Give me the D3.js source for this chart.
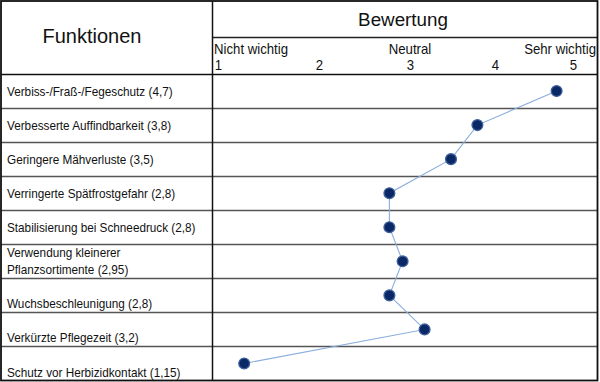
<!DOCTYPE html>
<html><head><meta charset="utf-8">
<script src="https://cdn.jsdelivr.net/npm/d3@7"></script>
<style>body{margin:0;background:#fff}svg{display:block;font-family:"Liberation Sans",Arial,sans-serif}</style>
</head><body><svg id="c" width="600" height="382"></svg>
<script>
// ---- data ----
const categories = [
  ["Verbiss-/Fraß-/Fegeschutz (4,7)"],
  ["Verbesserte Auffindbarkeit (3,8)"],
  ["Geringere Mähverluste (3,5)"],
  ["Verringerte Spätfrostgefahr (2,8)"],
  ["Stabilisierung bei Schneedruck (2,8)"],
  ["Verwendung kleinerer", "Pflanzsortimente (2,95)"],
  ["Wuchsbeschleunigung (2,8)"],
  ["Verkürzte Pflegezeit (3,2)"],
  ["Schutz vor Herbizidkontakt (1,15)"]
];
const values = [4.7, 3.8, 3.5, 2.8, 2.8, 2.95, 2.8, 3.2, 1.15];
const tickValues = [1, 2, 3, 4, 5];
const scaleLabels = ["Nicht wichtig", "Neutral", "Sehr wichtig"];
const headerLeft = "Funktionen";
const headerRight = "Bewertung";

// ---- layout ----
const svg = d3.select("#c");
const L = 1, R = 597.5, T = 1, B = 380.5, DIV = 212.5, HMID = 37.5, HB = 74;
const rowAlign = ["mid","mid","mid","mid","mid","two","bot","bot","bot"];

const x = d3.scaleLinear().domain([1, 5]).range([231, 583]);
const y = d3.scaleBand().domain(d3.range(categories.length)).range([HB, B]).paddingInner(0).paddingOuter(0);

// row lines
svg.append("g").selectAll("line").data(d3.range(1, categories.length)).join("line")
  .attr("x1", L).attr("x2", R)
  .attr("y1", i => Math.round(y(i)) + 0.5).attr("y2", i => Math.round(y(i)) + 0.5)
  .attr("stroke", "#555").attr("stroke-width", 1.3);

// header lines
svg.append("line").attr("x1", DIV).attr("x2", R).attr("y1", HMID).attr("y2", HMID).attr("stroke", "#222").attr("stroke-width", 1.3);
svg.append("line").attr("x1", L).attr("x2", R).attr("y1", HB + 0.5).attr("y2", HB + 0.5).attr("stroke", "#111").attr("stroke-width", 1.5);
svg.append("line").attr("x1", DIV).attr("x2", DIV).attr("y1", T).attr("y2", B).attr("stroke", "#111").attr("stroke-width", 1.5);
svg.append("rect").attr("x", L).attr("y", T).attr("width", R - L).attr("height", B - T)
  .attr("fill", "none").attr("stroke", "#111").attr("stroke-width", 1.8);

// headers
svg.append("text").attr("transform", "translate(92,43) scale(1,1.05)").attr("text-anchor", "middle").attr("font-size", 20).attr("fill", "#111").text(headerLeft);
svg.append("text").attr("transform", "translate(403,26)").attr("text-anchor", "middle").attr("font-size", 18.8).attr("fill", "#111").text(headerRight);

// scale labels
const sy = 1.15;
const slg = svg.append("g").attr("font-size", 13.2).attr("fill", "#111");
slg.append("text").attr("transform", `translate(214,54) scale(1,${sy})`).text(scaleLabels[0]);
slg.append("text").attr("transform", `translate(${x(3) + 3},54) scale(1,${sy})`).attr("text-anchor", "middle").text(scaleLabels[1]);
slg.append("text").attr("transform", `translate(596,54) scale(1,${sy})`).attr("text-anchor", "end").text(scaleLabels[2]);

// tick labels via axis
const tickNudge = v => v === 1 ? -13 : v === 5 ? -10 : (v === 3 ? 3 : 0);
const axis = d3.axisTop(x).tickValues(tickValues).tickSize(0).tickFormat(d3.format("d"));
const ax = svg.append("g").attr("transform", "translate(0,70)").call(axis);
ax.select(".domain").remove();
ax.selectAll(".tick text").attr("font-size", 13.2).attr("fill", "#111").attr("font-family", "Liberation Sans, Arial, sans-serif")
  .attr("dy", 0).attr("y", 0).attr("x", d => tickNudge(d))
  .attr("transform", `scale(1,${sy})`);

// category labels (condensed)
const sx = 0.87;
const lg = svg.append("g").attr("font-size", 13.5).attr("fill", "#111");
categories.forEach((lines, i) => {
  const top = y(i), bot = y(i) + y.bandwidth();
  let base;
  if (rowAlign[i] === "mid") base = (top + bot) / 2 + 4.5;
  else if (rowAlign[i] === "bot") base = bot - 4;
  else base = top + 13;
  const t = lg.append("text").attr("transform", `translate(7,${base}) scale(${sx},1)`);
  lines.forEach((s, k) => t.append("tspan").attr("x", 0).attr("y", k * 17).text(s));
});

// line + points
const pts = values.map((v, i) => [x(v), y(i) + y.bandwidth() / 2]);
svg.append("path").attr("d", d3.line()(pts)).attr("fill", "none").attr("stroke", "#8aaedc").attr("stroke-width", 1.1);
svg.append("g").selectAll("circle").data(pts).join("circle")
  .attr("cx", d => d[0]).attr("cy", d => d[1]).attr("r", 5.4)
  .attr("fill", "#0a2766").attr("stroke", "#3d5f9a").attr("stroke-width", 1.3);
</script></body></html>
